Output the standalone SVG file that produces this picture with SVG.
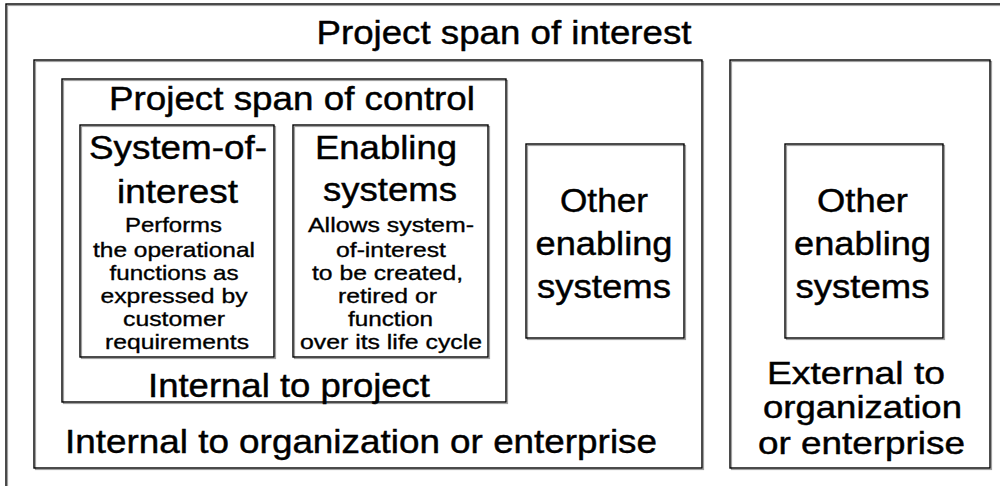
<svg xmlns="http://www.w3.org/2000/svg" width="1000" height="486" viewBox="0 0 1000 486">
<style>
.box{fill:none;stroke:#000;stroke-width:1.4}
.sh{fill:none;stroke:#a0a0a0;stroke-width:1.2}
.t{font-family:"Liberation Sans",Arial,sans-serif;fill:#000;text-anchor:middle;stroke:#000;stroke-width:0.45}
.big{font-size:34px}
.ext{font-size:32px}
.sm{font-size:21px;stroke-width:0.35}
</style>
<rect width="1000" height="486" fill="#fff"/>
<g id="span-of-interest">
<rect class="sh" x="7.5" y="5.5" width="1000" height="490"/>
<rect class="box" x="6" y="4" width="1000" height="490"/>
<text class="t" x="504" y="44" font-size="34" textLength="375" lengthAdjust="spacingAndGlyphs">Project span of interest</text>
</g>
<g id="internal-org">
<rect class="sh" x="35.5" y="61.5" width="668" height="408"/>
<rect class="box" x="34" y="60" width="668" height="408"/>
<text class="t big" x="361" y="453" textLength="592" lengthAdjust="spacingAndGlyphs">Internal to organization or enterprise</text>
</g>
<g id="span-of-control">
<rect class="sh" x="63.5" y="80.5" width="444" height="323"/>
<rect class="box" x="62" y="79" width="444" height="323"/>
<text class="t" x="292" y="110" font-size="33" textLength="366" lengthAdjust="spacingAndGlyphs">Project span of control</text>
<text class="t big" x="289" y="397" textLength="282" lengthAdjust="spacingAndGlyphs">Internal to project</text>
</g>
<g id="system-of-interest">
<rect class="sh" x="81.5" y="126.5" width="194" height="232"/>
<rect class="box" x="80" y="125" width="194" height="232"/>
<text class="t big" x="178" y="159" textLength="178" lengthAdjust="spacingAndGlyphs">System-of-</text>
<text class="t big" x="177.5" y="203" textLength="121" lengthAdjust="spacingAndGlyphs">interest</text>
<text class="t sm" x="173.5" y="232" textLength="97" lengthAdjust="spacingAndGlyphs">Performs</text>
<text class="t sm" x="174" y="257" textLength="162" lengthAdjust="spacingAndGlyphs">the operational</text>
<text class="t sm" x="174" y="280" textLength="129" lengthAdjust="spacingAndGlyphs">functions as</text>
<text class="t sm" x="174" y="303" textLength="147" lengthAdjust="spacingAndGlyphs">expressed by</text>
<text class="t sm" x="174" y="326" textLength="102" lengthAdjust="spacingAndGlyphs">customer</text>
<text class="t sm" x="177" y="349" textLength="144" lengthAdjust="spacingAndGlyphs">requirements</text>
</g>
<g id="enabling-systems">
<rect class="sh" x="294.5" y="126.5" width="195" height="232"/>
<rect class="box" x="293" y="125" width="195" height="232"/>
<text class="t big" x="386" y="159" textLength="142" lengthAdjust="spacingAndGlyphs">Enabling</text>
<text class="t big" x="390" y="201" textLength="134" lengthAdjust="spacingAndGlyphs">systems</text>
<text class="t sm" x="391" y="232" textLength="166" lengthAdjust="spacingAndGlyphs">Allows system-</text>
<text class="t sm" x="391" y="257" textLength="110" lengthAdjust="spacingAndGlyphs">of-interest</text>
<text class="t sm" x="387.5" y="280" textLength="151" lengthAdjust="spacingAndGlyphs">to be created,</text>
<text class="t sm" x="387.5" y="303" textLength="99" lengthAdjust="spacingAndGlyphs">retired or</text>
<text class="t sm" x="390.5" y="326" textLength="85" lengthAdjust="spacingAndGlyphs">function</text>
<text class="t sm" x="391" y="349" textLength="182" lengthAdjust="spacingAndGlyphs">over its life cycle</text>
</g>
<g id="other-enabling-internal">
<rect class="sh" x="527.5" y="145.5" width="158" height="194"/>
<rect class="box" x="526" y="144" width="158" height="194"/>
<text class="t big" x="604" y="212" textLength="88" lengthAdjust="spacingAndGlyphs">Other</text>
<text class="t big" x="604" y="255" textLength="137" lengthAdjust="spacingAndGlyphs">enabling</text>
<text class="t big" x="604" y="298" textLength="134" lengthAdjust="spacingAndGlyphs">systems</text>
</g>
<g id="external-org">
<rect class="sh" x="731.5" y="61.5" width="260" height="408"/>
<rect class="box" x="730" y="60" width="260" height="408"/>
<text class="t ext" x="856" y="384" textLength="178" lengthAdjust="spacingAndGlyphs">External to</text>
<text class="t ext" x="862.5" y="418" textLength="199" lengthAdjust="spacingAndGlyphs">organization</text>
<text class="t ext" x="861.5" y="454" textLength="207" lengthAdjust="spacingAndGlyphs">or enterprise</text>
</g>
<g id="other-enabling-external">
<rect class="sh" x="786.5" y="145.5" width="158" height="194"/>
<rect class="box" x="785" y="144" width="158" height="194"/>
<text class="t big" x="862.5" y="212" textLength="91" lengthAdjust="spacingAndGlyphs">Other</text>
<text class="t big" x="862.5" y="255" textLength="137" lengthAdjust="spacingAndGlyphs">enabling</text>
<text class="t big" x="862.5" y="298" textLength="134" lengthAdjust="spacingAndGlyphs">systems</text>
</g>
<g id="connectors"></g>
</svg>
